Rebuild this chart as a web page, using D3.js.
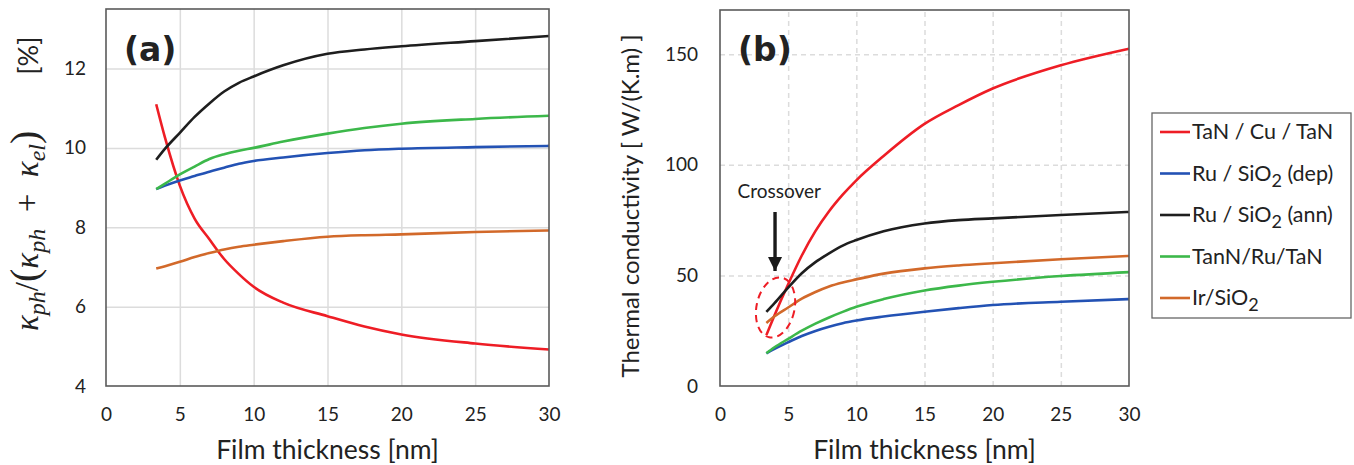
<!DOCTYPE html>
<html>
<head>
<meta charset="utf-8">
<script src="https://cdnjs.cloudflare.com/ajax/libs/d3/7.8.5/d3.min.js"></script>
<style>
  body { margin: 0; background: #fff; }
  text { font-family: Lato, "Open Sans", sans-serif; fill: #222; }
</style>
</head>
<body>
<svg id="chart" width="1354" height="465"></svg>
<script>
/* ******************** data ************************* */
// film thickness samples [nm], shared by every curve
var thickness = [3.4, 4, 5, 6, 7, 8, 9, 10, 12, 15, 17.5, 20, 25, 30];

// (a) phonon share of the thermal conductivity [%]
var ratioTaNCuTaN = [11.1, 10.25, 9.05, 8.22, 7.7, 7.2, 6.82, 6.5, 6.1, 5.76, 5.5, 5.3, 5.07, 4.92];
var ratioRuDep    = [8.96, 9.05, 9.18, 9.29, 9.4, 9.5, 9.6, 9.67, 9.76, 9.87, 9.94, 9.98, 10.02, 10.05];
var ratioRuAnn    = [9.7, 9.98, 10.38, 10.78, 11.12, 11.42, 11.64, 11.8, 12.08, 12.37, 12.48, 12.56, 12.69, 12.82];
var ratioTaNRuTaN = [8.96, 9.1, 9.33, 9.53, 9.72, 9.84, 9.93, 10.0, 10.16, 10.36, 10.5, 10.61, 10.73, 10.81];
var ratioIr       = [6.96, 7.02, 7.13, 7.25, 7.35, 7.44, 7.51, 7.56, 7.65, 7.76, 7.8, 7.82, 7.88, 7.92];

// (b) thermal conductivity [W/(K.m)]
var kTaNCuTaN = [23, 32, 46, 59, 70, 79, 86.5, 93, 104, 118.5, 127, 134.5, 145, 152.5];
var kRuDep    = [14.8, 16.8, 19.8, 22.6, 24.9, 26.8, 28.4, 29.6, 31.4, 33.6, 35.2, 36.6, 38.1, 39.3];
var kRuAnn    = [33.5, 37.5, 44.5, 51, 56, 60, 63.5, 66, 70, 73.5, 75, 75.8, 77.3, 78.7];
var kTaNRuTaN = [14.8, 17.5, 21.3, 25, 28.2, 31, 33.5, 35.8, 39.3, 43.2, 45.4, 47.1, 49.7, 51.5];
var kIr       = [28.5, 31.5, 35.5, 39.5, 42.5, 45, 46.8, 48.2, 50.8, 53.2, 54.5, 55.5, 57.3, 58.8];

// series names, [main text, subscript, rest]
var seriesNames = [["TaN / Cu / TaN", "", ""], ["Ru / SiO", "2", " (dep)"], ["Ru / SiO", "2", "  (ann)"],
                   ["TanN/Ru/TaN", "", ""], ["Ir/SiO", "2", ""]];
var seriesColors = ["#ee1d25", "#2352b4", "#1e1e1e", "#3cb84a", "#d2692a"];

var xTicks = [0, 5, 10, 15, 20, 25, 30];
var yTicksA = [4, 6, 8, 10, 12];
var yTicksB = [0, 50, 100, 150];

var svg = d3.select("#chart");

/* ******************** one panel ************************* */
function drawPanel(opt) {
  var x = d3.scaleLinear().domain([0, 30]).range([opt.left, opt.right]);
  var y = d3.scaleLinear().domain(opt.yDomain).range([opt.bottom, opt.top]);
  var g = svg.append("g");

  // gridlines
  g.append("g")
    .attr("transform", "translate(0," + opt.bottom + ")")
    .call(d3.axisBottom(x).tickValues(xTicks.slice(1, -1)).tickSize(-(opt.bottom - opt.top)).tickFormat(""))
    .call(function(s) { s.select(".domain").remove(); })
    .selectAll("line").attr("stroke", "#dcdcdc").attr("stroke-width", 1.5)
    .attr("stroke-dasharray", opt.dashed ? "5,4" : null);
  g.append("g")
    .attr("transform", "translate(" + opt.left + ",0)")
    .call(d3.axisLeft(y).tickValues(opt.yTicks.slice(1)).tickSize(-(opt.right - opt.left)).tickFormat(""))
    .call(function(s) { s.select(".domain").remove(); })
    .selectAll("line").attr("stroke", "#dcdcdc").attr("stroke-width", 1.5)
    .attr("stroke-dasharray", opt.dashed ? "5,4" : null);

  // tick labels, no tick marks
  var xAx = g.append("g")
    .attr("transform", "translate(0," + opt.bottom + ")")
    .call(d3.axisBottom(x).tickValues(xTicks).tickSize(0).tickPadding(22));
  xAx.select(".domain").remove();
  var yAx = g.append("g")
    .attr("transform", "translate(" + opt.left + ",0)")
    .call(d3.axisLeft(y).tickValues(opt.yTicks).tickSize(0).tickPadding(opt.yPad));
  yAx.select(".domain").remove();
  g.selectAll(".tick text").style("font-size", "19px").style("font-family", "Lato, sans-serif").attr("fill", "#222");

  // curves
  var line = d3.line()
    .x(function(d) { return x(d[0]); })
    .y(function(d) { return y(d[1]); })
    .curve(d3.curveMonotoneX);
  opt.series.forEach(function(vals, i) {
    g.append("path")
      .datum(thickness.map(function(t, j) { return [t, vals[j]]; }))
      .attr("fill", "none")
      .attr("stroke", seriesColors[i])
      .attr("stroke-width", 2.6)
      .attr("stroke-linejoin", "round")
      .attr("d", line);
  });

  // frame
  g.append("rect")
    .attr("x", opt.left).attr("y", opt.top)
    .attr("width", opt.right - opt.left).attr("height", opt.bottom - opt.top)
    .attr("fill", "none").attr("stroke", "#5a5a5a").attr("stroke-width", 1.6);

  // x title
  g.append("text")
    .attr("x", (opt.left + opt.right) / 2).attr("y", 459)
    .attr("text-anchor", "middle")
    .style("font-size", "26.5px")
    .text("Film thickness [nm]");

  // panel tag
  g.append("text")
    .attr("x", opt.left + 18).attr("y", 61)
    .style("font-family", "'DejaVu Sans', sans-serif")
    .style("font-weight", "bold")
    .style("font-size", "33px")
    .attr("fill", "#1a1a1a")
    .text(opt.tag);

  return { x: x, y: y, g: g };
}

/* ******************** panel (a) ************************* */
var pa = drawPanel({
  left: 106, right: 549, top: 9, bottom: 386,
  yDomain: [4, 13.5], yTicks: yTicksA, yPad: 20, dashed: false, tag: "(a)",
  series: [ratioTaNCuTaN, ratioRuDep, ratioRuAnn, ratioTaNRuTaN, ratioIr]
});

// y title of (a): kappa_ph / (kappa_ph + kappa_el)  [%]
var yTitleA = svg.append("text")
  .attr("transform", "translate(38,331) rotate(-90)")
  .style("font-family", "'Liberation Serif', serif")
  .style("font-style", "italic")
  .style("font-size", "33px");
function sub(t) {
  yTitleA.append("tspan").attr("dy", 7).style("font-size", "24px").text(t);
}
yTitleA.append("tspan").text("κ");
sub("ph");
yTitleA.append("tspan").attr("dy", -7).style("font-style", "normal").text("/");
yTitleA.append("tspan").style("font-style", "normal").style("font-size", "40px").text("(");
yTitleA.append("tspan").text("κ");
sub("ph");
yTitleA.append("tspan").attr("dy", -7).style("font-style", "normal").text("\u2002+\u2002");
yTitleA.append("tspan").text("κ");
sub("el");
yTitleA.append("tspan").attr("dy", -7).style("font-style", "normal").style("font-size", "40px").text(")");
yTitleA.append("tspan").attr("dx", 56).style("font-style", "normal")
  .style("font-family", "Lato, sans-serif").style("font-size", "27px").text("[%]");

/* ******************** panel (b) ************************* */
var pb = drawPanel({
  left: 720, right: 1129, top: 10, bottom: 386,
  yDomain: [0, 170], yTicks: yTicksB, yPad: 22, dashed: true, tag: "(b)",
  series: [kTaNCuTaN, kRuDep, kRuAnn, kTaNRuTaN, kIr]
});

svg.append("text")
  .attr("transform", "translate(639,206) rotate(-90)")
  .attr("text-anchor", "middle")
  .style("font-size", "24px")
  .text("Thermal conductivity [ W/(K.m) ]");

// crossover note
var crossAt = 4.0;
pb.g.append("text")
  .attr("x", pb.x(crossAt) - 37).attr("y", 198)
  .style("font-size", "19px")
  .text("Crossover");

svg.append("defs").append("marker")
  .attr("id", "head")
  .attr("viewBox", "0 0 10 10").attr("refX", 10).attr("refY", 5)
  .attr("markerWidth", 4.2).attr("markerHeight", 4.6)
  .attr("markerUnits", "strokeWidth")
  .attr("orient", "auto")
  .append("path").attr("d", "M0,0 L10,5 L0,10 Z").attr("fill", "#1a1a1a");

pb.g.append("line")
  .attr("x1", pb.x(crossAt) + 0.5).attr("y1", 212)
  .attr("x2", pb.x(crossAt) + 0.5).attr("y2", 271)
  .attr("stroke", "#1a1a1a").attr("stroke-width", 3.4)
  .attr("marker-end", "url(#head)");

pb.g.append("ellipse")
  .attr("transform", "translate(" + (pb.x(crossAt) + 1) + "," + pb.y(35.5) + ") rotate(12)")
  .attr("rx", 19).attr("ry", 30.5)
  .attr("fill", "none")
  .attr("stroke", "#ee1d25").attr("stroke-width", 2)
  .attr("stroke-dasharray", "7,5");

/* ******************** legend ************************* */
var legend = svg.append("g");
legend.append("rect")
  .attr("x", 1152).attr("y", 113).attr("width", 199).attr("height", 205)
  .attr("fill", "#fff").attr("stroke", "#666").attr("stroke-width", 1.3);

var legendY = d3.scalePoint().domain(d3.range(seriesNames.length)).range([132, 298]);
seriesNames.forEach(function(n, i) {
  var yy = legendY(i);
  legend.append("line")
    .attr("x1", 1160).attr("x2", 1190).attr("y1", yy).attr("y2", yy)
    .attr("stroke", seriesColors[i]).attr("stroke-width", 2.6);
  var t = legend.append("text")
    .attr("x", 1192).attr("y", yy + 7)
    .style("font-size", "21.5px");
  t.append("tspan").text(n[0]);
  if (n[1]) {
    t.append("tspan").attr("dy", 6).style("font-size", "18px").text(n[1]);
    t.append("tspan").attr("dy", -6).text(n[2]);
  }
});
</script>
</body>
</html>
